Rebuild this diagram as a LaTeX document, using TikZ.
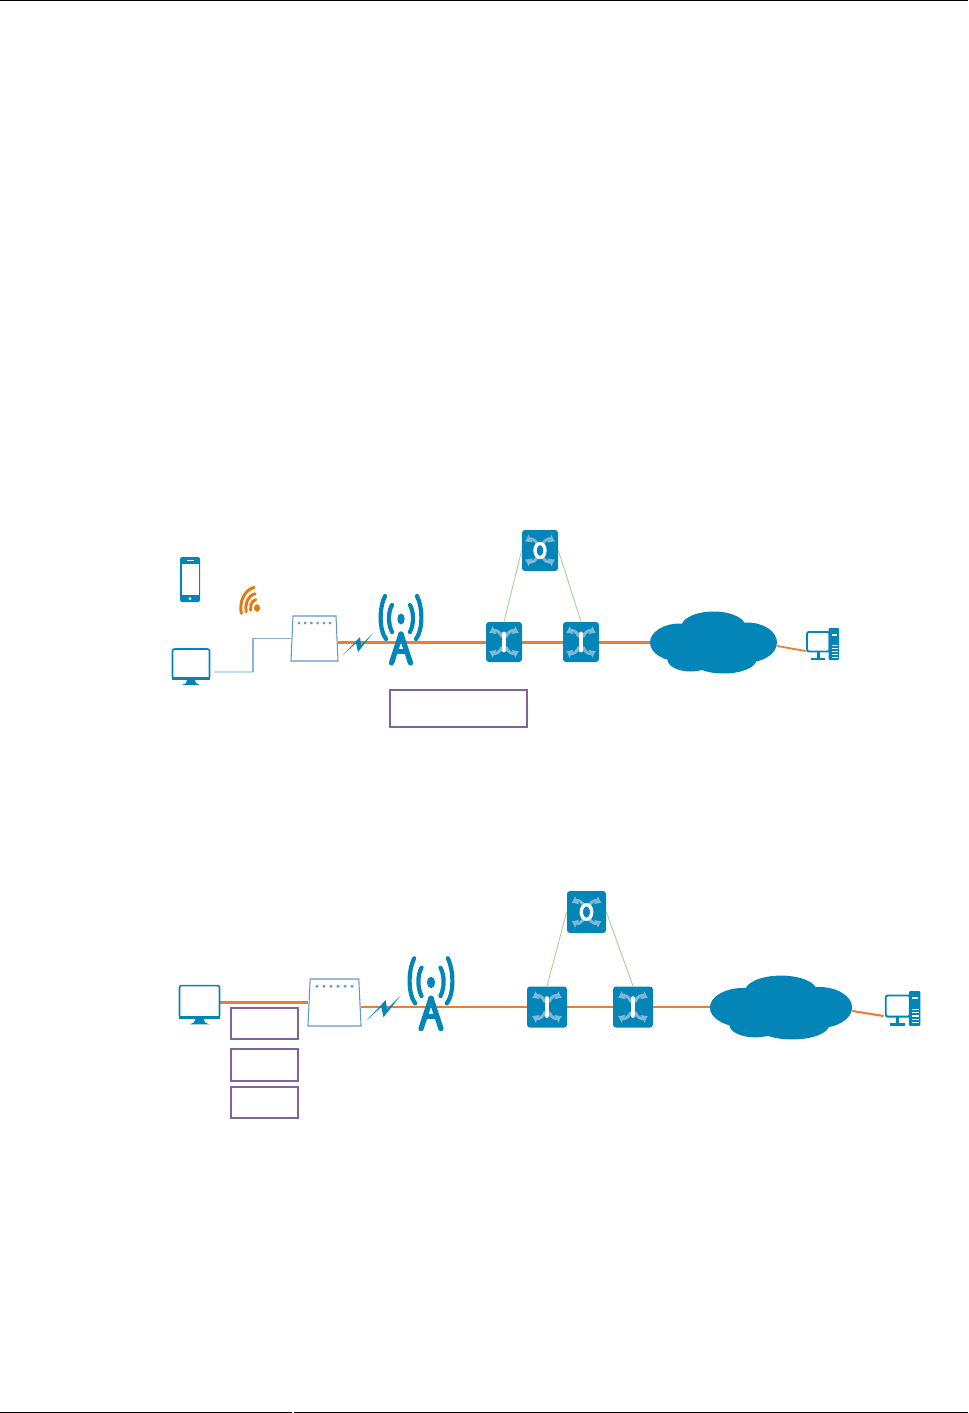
\documentclass[tikz,border=0pt]{standalone}
\usepackage{tikz}
\usetikzlibrary{arrows.meta, backgrounds}
\definecolor{iconblue}{RGB}{3,133,184}
\definecolor{glyphblue}{RGB}{125,185,215}
\definecolor{linkorange}{RGB}{237,125,49}
\definecolor{wifiorange}{RGB}{228,122,22}
\definecolor{boxpurple}{RGB}{128,100,162}
\definecolor{wireblue}{RGB}{140,178,215}
\definecolor{wirelight}{RGB}{190,218,235}
\definecolor{trunkgreen}{RGB}{169,209,142}
\definecolor{modemblue}{RGB}{100,150,200}
\def\px{0.02cm}
\tikzset{
    swnode/.style={rectangle, fill=iconblue, rounded corners=3*\px, inner sep=0pt},
    iconnode/.style={rectangle, inner sep=0pt},
    labelbox/.style={rectangle, draw=boxpurple, line width=0.7pt, inner sep=0pt},
    radiolink/.style={draw=linkorange, line width=1.7pt},
    wireline/.style={draw=wireblue, line width=0.6pt},
    wirefaint/.style={draw=wirelight, line width=0.6pt},
    trunkline/.style={draw=trunkgreen, line width=0.5pt},
    glyphline/.style={draw=glyphblue, line width=1.7pt, -{Latex[length=3.5pt,width=5.5pt]}},
    switcharms/.pic={
        \foreach \sx in {-1,1} \foreach \sy in {-1,1}
            \draw[glyphline, xscale=\sx, yscale=\sy] (2,5) .. controls (4,11) and (9,12) .. (15,9);
    },
    switchbar/.pic={
        \pic {switcharms};
        \draw[white, line width=2.8pt, line cap=round] (0,-8) -- (0,8);
    },
    switchring/.pic={
        \pic {switcharms};
        \draw[white, line width=1.9pt] (0,0) ellipse [x radius=5, y radius=7];
    },
    towerpic/.pic={
        \fill[iconblue] (0,-11) ellipse [x radius=3.7, y radius=5.5];
        \foreach \sx in {-1,1} {
            \draw[iconblue, line width=2.4pt, line cap=round, xscale=\sx] (9,-25) .. controls (13,-18) and (13,-6) .. (9,2);
            \draw[iconblue, line width=2.4pt, line cap=round, xscale=\sx] (16,-34) .. controls (22,-22) and (22,0) .. (15,9);
            \draw[iconblue, line width=3pt, line cap=round, xscale=\sx] (0,4) -- (9.5,33);
        }
        \draw[iconblue, line width=2.4pt] (-6,21.5) -- (6,21.5);
    },
    monitorpic/.pic={
        \draw[iconblue, line width=0.9pt, rounded corners=2*\px, fill=white] (-18.5,-18) rectangle (18.5,12);
        \fill[iconblue] (-19,10) rectangle (19,13);
        \fill[iconblue] (-4,13) -- (4,13) -- (5,16) -- (9,18) -- (-9,18) -- (-5,16) -- cycle;
    },
    phonepic/.pic={
        \fill[iconblue, rounded corners=2*\px] (-10,-22.5) rectangle (10,22.5);
        \fill[white] (-8.5,-16) rectangle (8.5,15);
        \fill[white] (-3.5,-19.5) rectangle (3.5,-18.5);
        \fill[white] (0,19) circle (1.5);
    },
    wifipic/.pic={
        \fill[wifiorange] (0,0) ellipse [x radius=3, y radius=3.8];
        \foreach \rr in {8.5,14.5,21}
            \draw[wifiorange, line width=1.7pt, line cap=round, xscale=0.77] (100:\rr*\px) arc [start angle=100, end angle=195, radius=\rr*\px];
    },
    boltpic/.pic={
        \fill[iconblue] (-15,11) -- (2,-7) -- (3,1) -- (15,-11) -- (0,8) -- (-2,-1) -- cycle;
    },
    modempic/.pic={
        \draw[modemblue, line width=0.6pt, fill=white] (-21.5,-22.5) -- (21.5,-22.5) -- (23.5,22.5) -- (-23.5,22.5) -- cycle;
        \foreach \xx in {-15.5,-9.3,-3.1,3.1,9.3,15.5}
            \fill[modemblue] (\xx,-15.5) circle (1.5);
    },
    cloudpic/.pic={
        \fill[iconblue] (0,-16) ellipse [x radius=32, y radius=15];
        \fill[iconblue] (-33.5,0) ellipse [x radius=30, y radius=19];
        \fill[iconblue] (33.5,0) ellipse [x radius=30, y radius=20];
        \fill[iconblue] (-23,17) ellipse [x radius=23, y radius=12];
        \fill[iconblue] (10,17) ellipse [x radius=33, y radius=14];
        \fill[iconblue] (-30,-12) rectangle (30,18);
    },
    pcpic/.pic={
        \draw[iconblue, line width=1.1pt, rounded corners=2*\px, fill=white] (-15.5,-12.5) rectangle (7,7);
        \fill[iconblue] (-6,7) rectangle (-3,13);
        \fill[iconblue] (-12,13) rectangle (2,15.5);
        \fill[iconblue, rounded corners=1*\px] (6,-16.5) rectangle (16.5,15.5);
        \fill[white] (9,-11) rectangle (14,-9);
        \foreach \yy in {0,3,6,9,12}
            \fill[white] (9,\yy) rectangle (15,\yy+1);
    },
}
\begin{document}
\begin{tikzpicture}[x=\px, y=-\px]
    \useasboundingbox (0,0) rectangle (968,1413);
    \fill[black] (0,0) rectangle (968,1);
    \fill[black] (0,1411.5) rectangle (292,1412.5);
    \fill[black] (294,1411.5) rectangle (968,1412.5);

    % upper network
    \node[iconnode, minimum width=20*\px, minimum height=45*\px] (phone1) at (190,579.5) {};
    \node[iconnode, minimum width=12*\px, minimum height=12*\px] (wifi1) at (257,608) {};
    \node[iconnode, minimum width=38*\px, minimum height=36*\px] (mon1) at (191,667) {};
    \node[iconnode, minimum width=47*\px, minimum height=45*\px] (modem1) at (314.5,638.5) {};
    \node[iconnode, minimum width=30*\px, minimum height=24*\px] (bolt1) at (358,644) {};
    \node[iconnode, minimum width=41*\px, minimum height=72*\px] (tower1) at (401,630) {};
    \node[swnode, minimum width=36*\px, minimum height=40*\px] (sw1) at (504,642) {};
    \node[swnode, minimum width=36*\px, minimum height=40*\px] (sw2) at (581,642) {};
    \node[swnode, minimum width=36*\px, minimum height=41*\px] (swtop1) at (540,550.5) {};
    \node[iconnode, minimum width=127*\px, minimum height=63*\px] (cloud1) at (713.5,642.5) {};
    \node[iconnode, minimum width=33*\px, minimum height=33*\px] (pc1) at (822.5,644.5) {};
    \node[labelbox, minimum width=137*\px, minimum height=37*\px] (label1) at (458.5,708.5) {};

    % lower network
    \node[iconnode, minimum width=41*\px, minimum height=38*\px] (mon2) at (199.5,1005) {};
    \node[iconnode, minimum width=53*\px, minimum height=47*\px] (modem2) at (334.5,1002.5) {};
    \node[iconnode, minimum width=35*\px, minimum height=24*\px] (bolt2) at (383.5,1008) {};
    \node[iconnode, minimum width=46*\px, minimum height=74*\px] (tower2) at (431,994) {};
    \node[swnode, minimum width=40*\px, minimum height=41*\px] (sw3) at (547,1007) {};
    \node[swnode, minimum width=40*\px, minimum height=41*\px] (sw4) at (633,1007) {};
    \node[swnode, minimum width=39*\px, minimum height=42*\px] (swtop2) at (586.5,912) {};
    \node[iconnode, minimum width=142*\px, minimum height=65*\px] (cloud2) at (781,1007.5) {};
    \node[iconnode, minimum width=37*\px, minimum height=34*\px] (pc2) at (902.5,1009) {};
    \node[labelbox, minimum width=67*\px, minimum height=31*\px] (label2) at (264.5,1023.5) {};
    \node[labelbox, minimum width=67*\px, minimum height=32*\px] (label3) at (264.5,1065) {};
    \node[labelbox, minimum width=67*\px, minimum height=31*\px] (label4) at (264.5,1102.5) {};

    \begin{scope}[on background layer]
        \coordinate (bend1) at (253,672);
        \draw[wirefaint] ([xshift=4*\px, yshift=-5*\px]mon1.east) -- (bend1);
        \draw[wireline] (bend1) |- (modem1.west);
        \draw[radiolink] (modem1.east |- sw1.west) -- (sw1.west);
        \draw[radiolink] (sw1.east) -- (sw2.west);
        \draw[radiolink] (sw2.east) -- (cloud1.west |- sw2.east);
        \draw[radiolink, line width=1pt] ([yshift=-3.5*\px]cloud1.east) -- ([yshift=-6.5*\px]pc1.west);
        \draw[trunkline] (sw1.north) -- (swtop1.west);
        \draw[trunkline] (sw2.north) -- (swtop1.east);

        \draw[radiolink, line width=1.2pt] (mon2.east |- modem2.west) -- (modem2.west);
        \draw[radiolink, line width=1.2pt] (modem2.east |- sw3.west) -- (sw3.west);
        \draw[radiolink, line width=1.2pt] (sw3.east) -- (sw4.west);
        \draw[radiolink, line width=1.2pt] (sw4.east) -- (cloud2.west |- sw4.east);
        \draw[radiolink, line width=1.2pt] ([yshift=-3.5*\px]cloud2.east) -- ([yshift=-7*\px]pc2.west);
        \draw[trunkline] (sw3.north) -- (swtop2.west);
        \draw[trunkline] (sw4.north) -- (swtop2.east);
    \end{scope}

    \pic at (phone1) {phonepic};
    \pic at (wifi1) {wifipic};
    \pic at (mon1) {monitorpic};
    \pic at (modem1) {modempic};
    \pic at (bolt1) {boltpic};
    \pic at (tower1) {towerpic};
    \pic at (sw1) {switchbar};
    \pic at (sw2) {switchbar};
    \pic at (swtop1) {switchring};
    \pic at (cloud1) {cloudpic};
    \pic at (pc1) {pcpic};

    \pic[scale=1.08] at (mon2) {monitorpic};
    \pic[xscale=1.13, yscale=1.045] at (modem2) {modempic};
    \pic[scale=1.15] at (bolt2) {boltpic};
    \pic[scale=1.05] at (tower2) {towerpic};
    \pic[scale=1.05] at (sw3) {switchbar};
    \pic[scale=1.05] at (sw4) {switchbar};
    \pic[scale=1.05] at (swtop2) {switchring};
    \pic[xscale=1.12, yscale=1.03] at (cloud2) {cloudpic};
    \pic[scale=1.08] at (pc2) {pcpic};
\end{tikzpicture}
\end{document}
